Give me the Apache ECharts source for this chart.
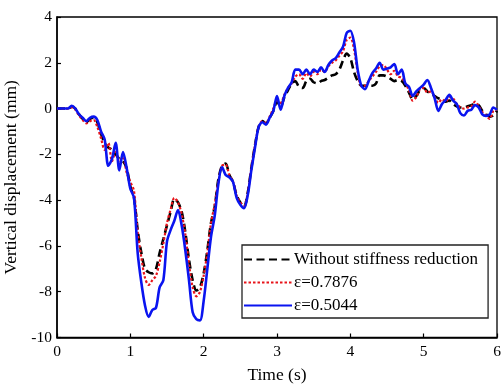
<!DOCTYPE html>
<html>
<head>
<meta charset="utf-8">
<script src="https://cdn.jsdelivr.net/npm/echarts@6/dist/echarts.min.js"></script>
<style>
  html, body { margin: 0; padding: 0; background: #fff; }
  #chart { width: 501px; height: 385px; }
</style>
</head>
<body>
<div id="chart"></div>
<script>
// Sample times (s), 0.05 s step
const timeS = [];
for (let i = 0; i <= 120; i++) timeS.push(+(i * 0.05).toFixed(2));

// Vertical displacement (mm), without stiffness reduction
const baseline = [
  0, 0, 0, 0, 0.08, 0.0, -0.25, -0.45, -0.6, -0.45,
  -0.4, -0.6, -1.1, -1.5, -1.7, -1.8, -2.0, -2.2, -2.3, -2.6,
  -3.4, -3.9, -5.3, -6.3, -7.0, -7.15, -7.2, -7.0, -6.3, -5.7,
  -5.1, -4.5, -3.95, -4.1, -4.5, -5.4, -6.6, -7.5, -7.95, -7.8,
  -7.2, -6.2, -5.0, -4.3, -3.1, -2.5, -2.4, -2.9, -3.2, -3.8,
  -4.1, -4.3, -3.7, -2.6, -1.6, -0.8, -0.55, -0.65, -0.4, -0.1,
  0.3, 0.1, 0.5, 0.8, 1.1, 1.2, 0.95, 0.9, 1.2, 1.3,
  1.15, 1.1, 1.2, 1.25, 1.35, 1.45, 1.5, 1.7, 2.1, 2.4,
  2.2, 1.6, 1.2, 1.0, 1.0, 1.0, 1.0, 1.1, 1.45, 1.45,
  1.4, 1.3, 1.2, 1.25, 1.2, 1.0, 0.7, 0.4, 0.55, 0.8,
  0.9, 0.75, 0.65, 0.55, 0.45, 0.4, 0.3, 0.35, 0.2, 0.1,
  0.05, 0.05, 0.1, 0.15, 0.2, 0.15, -0.1, -0.25, -0.35, -0.3,
  -0.1
];

// ε = 0.7876
const eps7876 = [
  0, 0, 0, 0, 0.05, -0.05, -0.3, -0.5, -0.65, -0.55,
  -0.5, -0.8, -1.3, -1.8, -1.5, -2.3, -1.9, -2.3, -2.1, -2.8,
  -3.2, -3.6, -5.4, -6.5, -7.4, -7.7, -7.5, -7.3, -6.7, -5.9,
  -5.0, -4.4, -3.9, -4.1, -4.6, -5.5, -6.8, -7.8, -8.2, -8.0,
  -7.3, -6.3, -5.0, -4.2, -3.2, -2.5, -2.45, -2.9, -3.2, -3.8,
  -4.1, -4.25, -3.7, -2.6, -1.6, -0.8, -0.55, -0.65, -0.35, 0.0,
  0.35, 0.25, 0.6, 0.9, 1.1, 1.4, 1.5, 1.3, 1.55, 1.4,
  1.6, 1.5, 1.7, 1.6, 1.85, 2.0, 2.1, 2.3, 2.5, 3.0,
  3.1, 2.6, 1.6, 1.0, 1.0, 1.2, 1.4, 1.6, 1.85, 1.9,
  1.7, 1.5, 1.65, 1.4, 1.35, 1.1, 0.8, 0.35, 0.5, 0.85,
  0.9, 0.7, 0.75, 0.5, 0.25, 0.4, 0.3, 0.5, 0.45, 0.2,
  0.05, 0.0, 0.05, 0.1, 0.3, 0.1, -0.15, -0.3, -0.45, -0.1,
  -0.05
];

// ε = 0.5044
const eps5044 = [
  0, 0, 0, 0, 0.12, 0.0, -0.25, -0.4, -0.55, -0.4,
  -0.35, -0.5, -1.0, -1.35, -2.5, -2.2, -1.5, -2.7, -1.9, -2.6,
  -3.5, -3.9, -6.3, -7.6, -8.6, -9.1, -8.8, -8.7, -7.8, -7.5,
  -5.8, -5.3, -4.9, -4.43, -5.1, -6.2, -7.5, -8.9, -9.2, -9.25,
  -8.4, -7.0, -5.6, -4.7, -3.3, -2.55, -2.9, -3.0, -3.2, -3.9,
  -4.2, -4.35, -3.8, -2.7, -1.7, -0.8, -0.6, -0.7, -0.4, -0.1,
  0.55, -0.05, 0.55, 0.9, 1.15, 1.7, 1.7, 1.5, 1.7, 1.5,
  1.7, 1.6, 1.8, 1.6, 1.9, 2.1, 2.2, 2.45, 2.7, 3.3,
  3.4, 2.9, 1.7, 1.0, 0.85, 1.2, 1.55, 1.75, 2.0, 1.7,
  1.75, 1.8, 1.95, 1.5, 1.7, 1.1, 0.95, 0.55, 0.75, 0.9,
  1.05, 1.25, 0.9, 0.45, -0.1, 0.2, 0.38, 0.6, 0.35, 0.2,
  -0.2, -0.3, -0.1, -0.05, 0.15, 0.05, -0.25, -0.32, -0.25, 0.05,
  -0.05
];

const seriesNames = ['Without stiffness reduction', 'ε=0.7876', 'ε=0.5044'];
const xTicks = [0, 1, 2, 3, 4, 5, 6];
const yTicks = [-10, -8, -6, -4, -2, 0, 2, 4];

const pairs = vals => timeS.map((t, i) => [t, vals[i]]);
const serif = '"Liberation Serif", "Times New Roman", serif';

const chart = echarts.init(document.getElementById('chart'), null, { renderer: 'canvas' });
chart.setOption({
  animation: false,
  backgroundColor: '#fff',
  grid: {
    left: 57, right: 4, top: 17, bottom: 47.5,
    containLabel: false, outerBoundsMode: 'none',
    show: true, borderColor: '#000', borderWidth: 1.3
  },
  xAxis: {
    type: 'value',
    min: xTicks[0], max: xTicks[xTicks.length - 1], interval: 1,
    name: 'Time (s)', nameLocation: 'middle', nameGap: 29,
    nameTextStyle: { fontFamily: serif, fontSize: 17.5, color: '#000' },
    axisLine: { show: true, onZero: false, lineStyle: { color: '#000', width: 1.5 } },
    axisTick: { show: true, inside: true, length: 4, lineStyle: { color: '#000', width: 1.2 } },
    axisLabel: { fontFamily: serif, fontSize: 15.5, color: '#000', margin: 6 },
    splitLine: { show: false }
  },
  yAxis: {
    type: 'value',
    min: yTicks[0], max: yTicks[yTicks.length - 1], interval: 2,
    name: 'Vertical displacement (mm)', nameLocation: 'middle', nameGap: 30,
    nameTextStyle: { fontFamily: serif, fontSize: 17.5, color: '#000' },
    axisLine: { show: true, onZero: false, lineStyle: { color: '#000', width: 1.5 } },
    axisTick: { show: true, inside: true, length: 4, lineStyle: { color: '#000', width: 1.2 } },
    axisLabel: { fontFamily: serif, fontSize: 15.5, color: '#000', margin: 5 },
    splitLine: { show: false }
  },
  legend: {
    orient: 'vertical',
    left: 242, top: 245,
    padding: [6, 10, 4, 1],
    itemGap: 6,
    itemWidth: 48, itemHeight: 14,
    backgroundColor: '#fff',
    borderColor: '#222', borderWidth: 1.3, borderRadius: 0,
    itemStyle: { opacity: 0 },
    textStyle: { fontFamily: serif, fontSize: 17, color: '#000', padding: [0, 0, 0, -3] },
    data: seriesNames
  },
  series: [
    {
      name: seriesNames[0], type: 'line', data: pairs(baseline),
      showSymbol: false, symbol: 'none', smooth: 0.3,
      lineStyle: { color: '#000', width: 2.6, type: [8, 4.5] },
      itemStyle: { color: '#000' }, z: 2
    },
    {
      name: seriesNames[1], type: 'line', data: pairs(eps7876),
      showSymbol: false, symbol: 'none', smooth: 0.3,
      lineStyle: { color: '#e8141a', width: 2.2, type: [2.5, 2] },
      itemStyle: { color: '#e8141a' }, z: 3
    },
    {
      name: seriesNames[2], type: 'line', data: pairs(eps5044),
      showSymbol: false, symbol: 'none', smooth: 0.3,
      lineStyle: { color: '#0a14f0', width: 2.6 },
      itemStyle: { color: '#0a14f0' }, z: 4
    }
  ]
});
</script>
</body>
</html>
